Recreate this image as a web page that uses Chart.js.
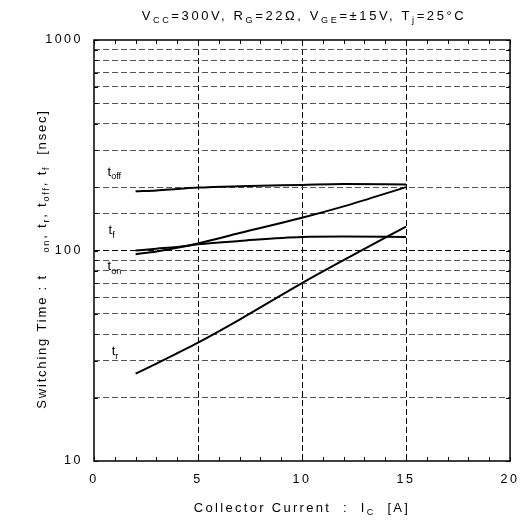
<!DOCTYPE html>
<html>
<head>
<meta charset="utf-8">
<script src="https://cdn.jsdelivr.net/npm/chart.js@4/dist/chart.umd.min.js"></script>
<style>
    html, body { margin: 0; padding: 0; background: #fff; }
    #wrap { width: 528px; height: 528px; }
</style>
</head>
<body>
<div id="wrap"><canvas id="switching-chart" width="528" height="528"></canvas></div>
<script>
// collector current [A]
const currents = [2, 3, 4, 5, 7, 10, 12, 15];
// switching times [nsec]
const tOff = [191, 193, 196, 199, 202, 205, 207, 206];
const tF = [96, 99, 103, 108, 121, 143, 162, 200];
const tOn = [100, 102, 104, 107, 111, 116, 116.5, 116];
const tR = [26, 29, 32.5, 36.5, 47, 70, 90, 130];

const xTickLabels = [0, 5, 10, 15, 20];
const yTickLabels = [10, 100, 1000];
const dashedX = [5, 10, 15];

const FONT = '"Liberation Sans", Arial, sans-serif';

function points(ys) {
    return currents.map((x, i) => ({ x: x, y: ys[i] }));
}

function curve(label, ys) {
    return {
        label: label,
        data: points(ys),
        borderColor: '#000',
        borderWidth: 2,
        pointRadius: 0,
        showLine: true,
        fill: false,
        cubicInterpolationMode: 'monotone'
    };
}

// draw text pieces, some as subscripts
function richWidth(ctx, parts, size) {
    let w = 0;
    parts.forEach(p => {
        ctx.font = (p.sub ? size * 0.7 : size) + 'px ' + FONT;
        w += ctx.measureText(p.t).width;
    });
    return w;
}

function drawRich(ctx, parts, x, y, size, align) {
    let w = richWidth(ctx, parts, size);
    let cx = align === 'center' ? x - w / 2 : x;
    parts.forEach(p => {
        ctx.font = (p.sub ? size * 0.7 : size) + 'px ' + FONT;
        ctx.fillText(p.t, cx, p.sub ? y + size * 0.35 : y);
        cx += ctx.measureText(p.t).width;
    });
}

const textPlugin = {
    id: 'texts',
    beforeDraw(chart) {
        // wide letter spacing for the tick labels as well
        chart.ctx.letterSpacing = '2.5px';
    },
    afterDraw(chart) {
        const ctx = chart.ctx;
        const area = chart.chartArea;
        const xs = chart.scales.x;
        const ys = chart.scales.y;
        ctx.save();
        ctx.fillStyle = '#000';
        ctx.textBaseline = 'middle';
        ctx.textAlign = 'left';

        // frame
        ctx.strokeStyle = '#000';
        ctx.lineWidth = 1.5;
        ctx.setLineDash([]);
        ctx.strokeRect(area.left, area.top, area.right - area.left, area.bottom - area.top);

        // inward tick marks
        ctx.lineWidth = 1;
        ctx.beginPath();
        xs.ticks.forEach(t => {
            const px = Math.round(xs.getPixelForValue(t.value)) + 0.5;
            ctx.moveTo(px, area.bottom); ctx.lineTo(px, area.bottom - 4);
            ctx.moveTo(px, area.top); ctx.lineTo(px, area.top + 4);
        });
        ys.ticks.forEach(t => {
            const py = Math.round(ys.getPixelForValue(t.value)) + 0.5;
            ctx.moveTo(area.left, py); ctx.lineTo(area.left + 4, py);
            ctx.moveTo(area.right, py); ctx.lineTo(area.right - 4, py);
        });
        ctx.stroke();

        // title
        ctx.letterSpacing = '2.6px';
        drawRich(ctx, [
            { t: 'V' }, { t: 'CC', sub: true }, { t: '=300V, R' }, { t: 'G', sub: true },
            { t: '=22Ω, V' }, { t: 'GE', sub: true }, { t: '=±15V, T' }, { t: 'j', sub: true },
            { t: '=25°C' }
        ], (area.left + area.right) / 2 + 2, 16, 13, 'center');

        // x axis title
        ctx.letterSpacing = '2.3px';
        drawRich(ctx, [
            { t: 'Collector Current  :  I' }, { t: 'C', sub: true }, { t: '  [A]' }
        ], (area.left + area.right) / 2, 508, 13, 'center');

        // y axis title
        ctx.letterSpacing = '1.8px';
        ctx.save();
        ctx.translate(42, 259);
        ctx.rotate(-Math.PI / 2);
        drawRich(ctx, [
            { t: 'Switching Time : t    ' }, { t: 'on', sub: true }, { t: ', t' }, { t: 'r', sub: true },
            { t: ', t' }, { t: 'off', sub: true }, { t: ', t' }, { t: 'f', sub: true }, { t: '  [nsec]' }
        ], 0, 0, 13, 'center');
        ctx.restore();

        // curve labels
        ctx.letterSpacing = '0px';
        const curveLabels = [
            { sub: 'off', x: 0.65, y: 236 },
            { sub: 'f', x: 0.7, y: 124 },
            { sub: 'on', x: 0.65, y: 84 },
            { sub: 'r', x: 0.85, y: 33 }
        ];
        curveLabels.forEach(l => {
            drawRich(ctx, [{ t: 't' }, { t: l.sub, sub: true }],
                xs.getPixelForValue(l.x), ys.getPixelForValue(l.y), 13, 'left');
        });
        ctx.restore();
    }
};

new Chart(document.getElementById('switching-chart'), {
    type: 'scatter',
    data: {
        datasets: [
            curve('toff', tOff),
            curve('tf', tF),
            curve('ton', tOn),
            curve('tr', tR)
        ]
    },
    options: {
        responsive: false,
        animation: false,
        layout: { padding: { top: 40, right: 11, bottom: 0, left: 0 } },
        plugins: {
            legend: { display: false },
            tooltip: { enabled: false }
        },
        scales: {
            x: {
                type: 'linear',
                min: 0,
                max: 20,
                afterFit: s => { s.height = 67; },
                ticks: {
                    stepSize: 1,
                    autoSkip: false,
                    maxRotation: 0,
                    padding: 11,
                    color: '#000',
                    font: { family: FONT, size: 12.5 },
                    callback: v => xTickLabels.includes(v) ? String(v) : ''
                },
                grid: {
                    drawTicks: false,
                    lineWidth: 1,
                    color: c => c.tick && dashedX.includes(c.tick.value) ? '#000' : 'rgba(0,0,0,0)'
                },
                border: { display: false, dash: [6, 3] }
            },
            y: {
                type: 'logarithmic',
                min: 10,
                max: 1000,
                afterFit: s => { s.width = 94; },
                ticks: {
                    autoSkip: false,
                    padding: 11,
                    color: '#000',
                    font: { family: FONT, size: 12.5 },
                    callback: v => yTickLabels.includes(v) ? String(v) : ''
                },
                grid: {
                    drawTicks: false,
                    lineWidth: 1,
                    color: c => {
                        if (!c.tick || c.tick.value === 10 || c.tick.value === 1000) return 'rgba(0,0,0,0)';
                        return c.tick.value === 100 ? '#000' : '#555';
                    }
                },
                border: { display: false, dash: [6, 3] }
            }
        }
    },
    plugins: [textPlugin]
});
</script>
</body>
</html>
